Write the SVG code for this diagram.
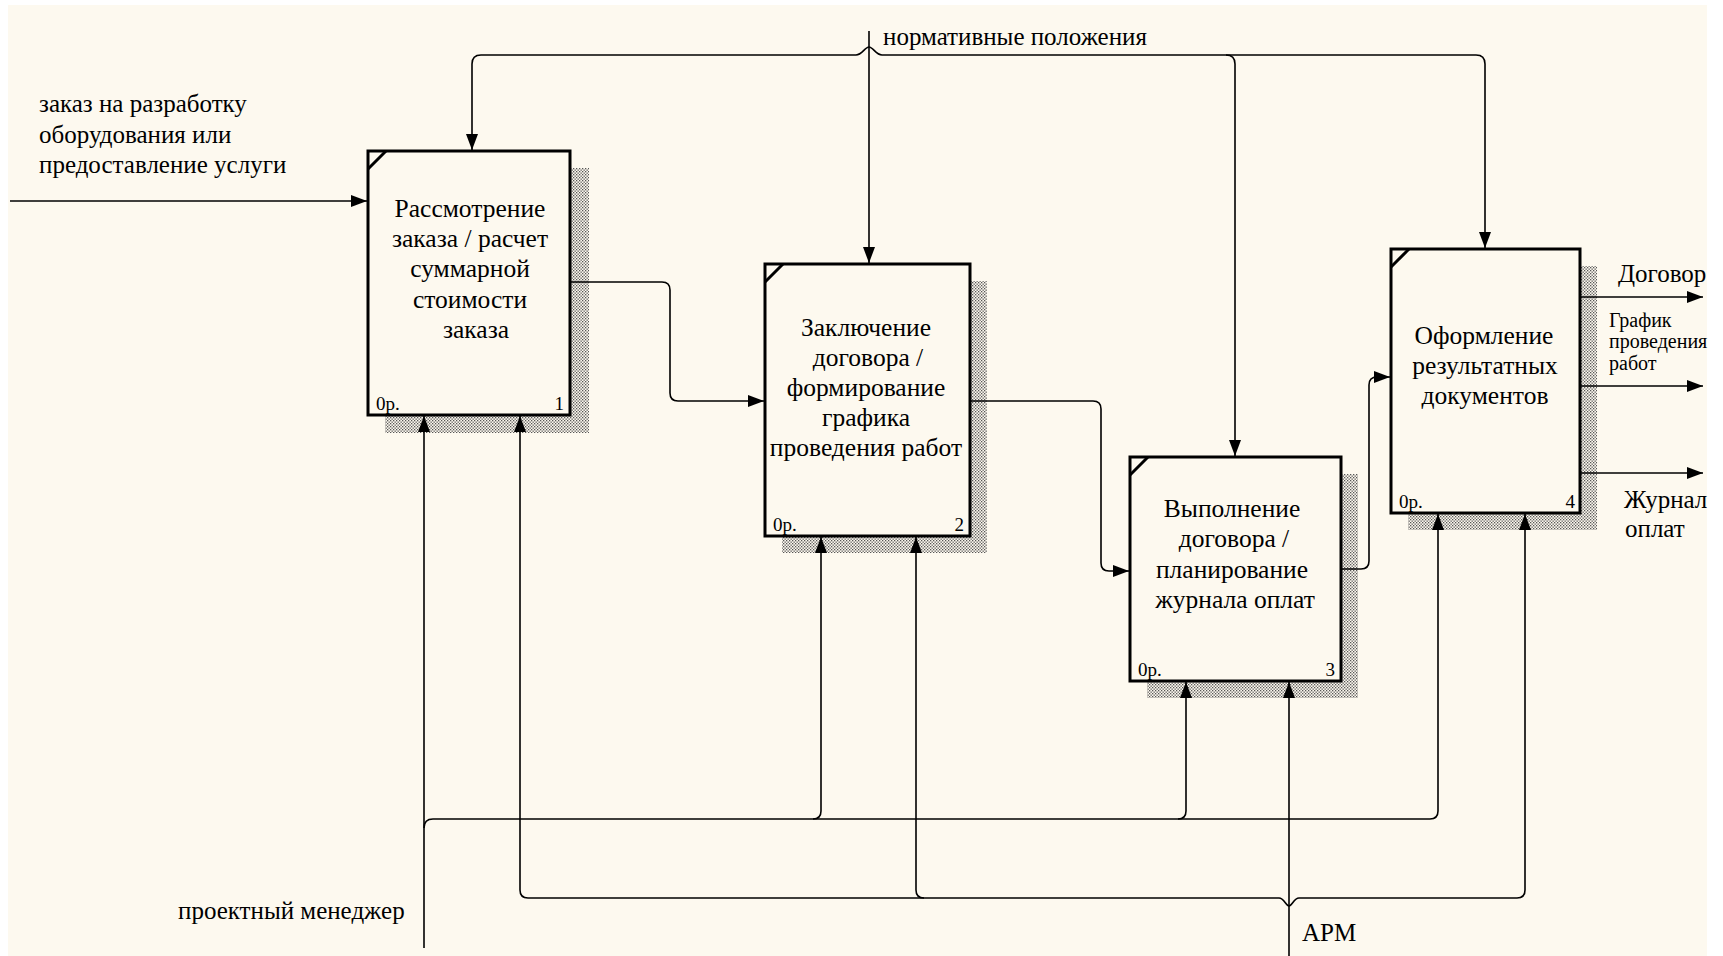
<svg xmlns="http://www.w3.org/2000/svg" width="1723" height="956" viewBox="0 0 1723 956">
<style>
.bg{fill:#FDF9EF}
.box{fill:#FDF9EF;stroke:#000;stroke-width:3}
.shadow{fill:url(#hatch)}
.diag{stroke:#000;stroke-width:3;fill:none}
.t{font-family:"Liberation Serif","Times New Roman",serif;font-size:25px;fill:#000}
.bt{font-size:25.5px}
.c{text-anchor:middle}
.e{text-anchor:end}
.sm{font-size:20px}
.ref{font-size:19px}
.ln{fill:none;stroke:#000;stroke-width:1.6}
</style>
<defs>
<pattern id="hatch" width="3" height="3" patternUnits="userSpaceOnUse">
<rect x="0" y="0" width="3" height="3" fill="#FDF9EF"/>
<rect x="0" y="0" width="1.3" height="1.3" fill="#555"/>
<rect x="1.5" y="1.5" width="1.3" height="1.3" fill="#555"/>
</pattern>
<marker id="arr" markerUnits="userSpaceOnUse" markerWidth="18" markerHeight="14" refX="16" refY="6" orient="auto">
<path d="M0,0 L16,6 L0,12 z" fill="#000"/>
</marker>
</defs>
<rect x="0" y="0" width="1723" height="956" fill="#fff"/>
<rect class="bg" x="8" y="5" width="1699" height="951"/>

<g id="node1">
<rect class="shadow" x="385" y="168" width="204" height="265"/>
<rect class="box" x="368" y="151" width="202" height="264"/>
<path class="diag" d="M368,169 L386,151"/>
<text class="t bt c" x="470" y="217">Рассмотрение</text>
<text class="t bt c" x="470" y="247">заказа / расчет</text>
<text class="t bt c" x="470" y="277">суммарной</text>
<text class="t bt c" x="470" y="308">стоимости</text>
<text class="t bt c" x="476" y="338">заказа</text>
<text class="t ref" x="376" y="410">0р.</text>
<text class="t ref e" x="564" y="410">1</text>
</g>

<g id="node2">
<rect class="shadow" x="782" y="281" width="205" height="272"/>
<rect class="box" x="765" y="264" width="205" height="272"/>
<path class="diag" d="M765,282 L783,264"/>
<text class="t bt c" x="866" y="336">Заключение</text>
<text class="t bt c" x="868" y="366">договора /</text>
<text class="t bt c" x="866" y="396">формирование</text>
<text class="t bt c" x="866" y="426">графика</text>
<text class="t bt c" x="866" y="456">проведения работ</text>
<text class="t ref" x="773" y="531">0р.</text>
<text class="t ref e" x="964" y="531">2</text>
</g>

<g id="node3">
<rect class="shadow" x="1147" y="474" width="211" height="224"/>
<rect class="box" x="1130" y="457" width="211" height="224"/>
<path class="diag" d="M1130,475 L1148,457"/>
<text class="t bt c" x="1232" y="517">Выполнение</text>
<text class="t bt c" x="1234" y="547">договора /</text>
<text class="t bt c" x="1232" y="578">планирование</text>
<text class="t bt c" x="1235" y="608">журнала оплат</text>
<text class="t ref" x="1138" y="676">0р.</text>
<text class="t ref e" x="1335" y="676">3</text>
</g>

<g id="node4">
<rect class="shadow" x="1408" y="266" width="189" height="264"/>
<rect class="box" x="1391" y="249" width="189" height="264"/>
<path class="diag" d="M1391,267 L1409,249"/>
<text class="t bt c" x="1484" y="344">Оформление</text>
<text class="t bt c" x="1485" y="374">результатных</text>
<text class="t bt c" x="1485" y="404">документов</text>
<text class="t ref" x="1399" y="508">0р.</text>
<text class="t ref e" x="1575" y="508">4</text>
</g>

<g id="connectors">
<path class="ln" marker-end="url(#arr)" d="M10,201 H367"/>
<path class="ln" marker-end="url(#arr)" d="M869,31 V263"/>
<path class="ln" marker-end="url(#arr)" d="M869,47 C865,47 862,55 856,55 H481 Q472,55 472,64 V150"/>
<path class="ln" marker-end="url(#arr)" d="M869,47 C873,47 876,55 882,55 H1476 Q1485,55 1485,64 V248"/>
<path class="ln" marker-end="url(#arr)" d="M1226,55 Q1235,55 1235,64 V456"/>
<path class="ln" marker-end="url(#arr)" d="M571,282 H662 Q670,282 670,290 V393 Q670,401 678,401 H764"/>
<path class="ln" marker-end="url(#arr)" d="M971,401 H1093 Q1101,401 1101,409 V563 Q1101,571 1109,571 H1129"/>
<path class="ln" marker-end="url(#arr)" d="M1342,569 H1361 Q1369,569 1369,561 V385 Q1369,377 1377,377 H1390"/>
<path class="ln" marker-end="url(#arr)" d="M1581,297 H1703"/>
<path class="ln" marker-end="url(#arr)" d="M1581,386 H1703"/>
<path class="ln" marker-end="url(#arr)" d="M1581,473 H1703"/>
<path class="ln" marker-end="url(#arr)" d="M424,948 V416"/>
<path class="ln" marker-end="url(#arr)" d="M424,828 Q424,819 433,819 H1430 Q1438,819 1438,811 V514"/>
<path class="ln" marker-end="url(#arr)" d="M813,819 Q821,819 821,811 V537"/>
<path class="ln" marker-end="url(#arr)" d="M1178,819 Q1186,819 1186,811 V682"/>
<path class="ln" marker-end="url(#arr)" d="M1289,956 V682"/>
<path class="ln" marker-end="url(#arr)" d="M1289,906 C1286,906 1284,898 1279,898 H528 Q520,898 520,890 V416"/>
<path class="ln" marker-end="url(#arr)" d="M1289,906 C1292,906 1294,898 1299,898 H1517 Q1525,898 1525,890 V514"/>
<path class="ln" marker-end="url(#arr)" d="M924,898 Q916,898 916,890 V537"/>
</g>

<g id="labels">
<text class="t" x="39" y="112">заказ на разработку</text>
<text class="t" x="39" y="143">оборудования или</text>
<text class="t" x="39" y="173">предоставление услуги</text>
<text class="t" x="883" y="45">нормативные положения</text>
<text class="t" x="178" y="919">проектный менеджер</text>
<text class="t" x="1302" y="941">АРМ</text>
<text class="t" x="1618" y="282">Договор</text>
<text class="t sm" x="1609" y="327">График</text>
<text class="t sm" x="1609" y="348">проведения</text>
<text class="t sm" x="1609" y="370">работ</text>
<text class="t" x="1624" y="508">Журнал</text>
<text class="t" x="1625" y="537">оплат</text>
</g>
</svg>
